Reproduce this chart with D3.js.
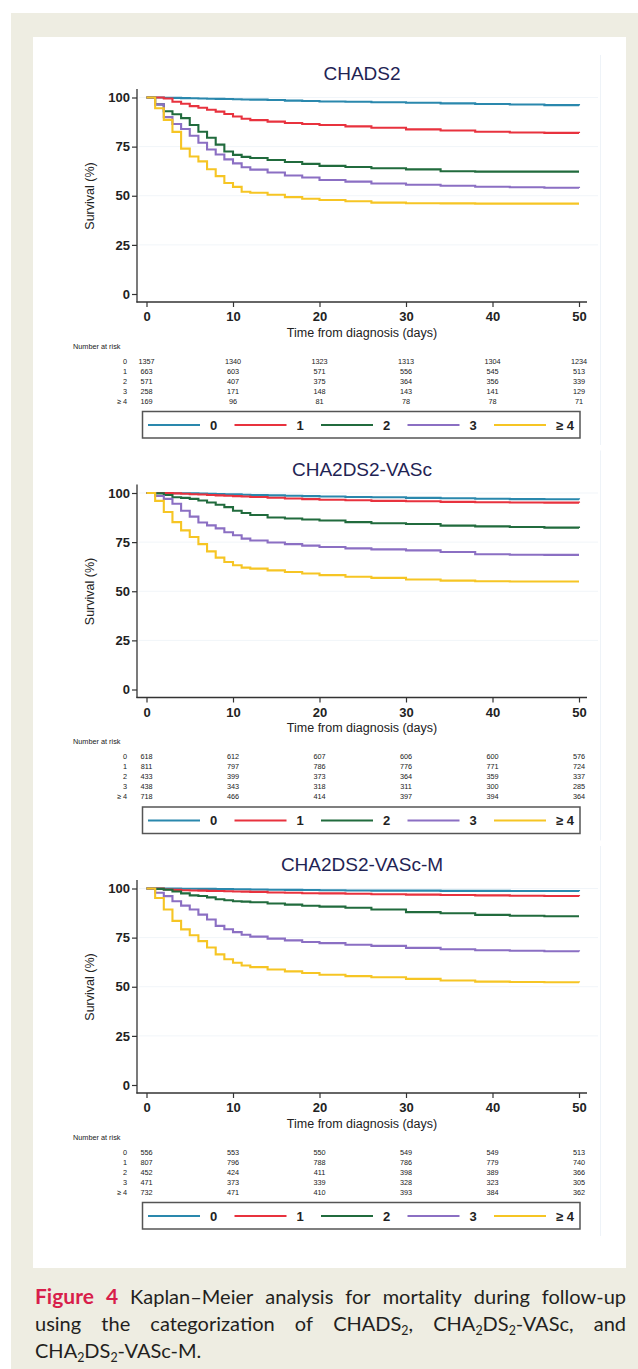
<!DOCTYPE html>
<html><head><meta charset="utf-8">
<script src="https://cdn.jsdelivr.net/npm/d3@7"></script>
<style>html,body{margin:0;padding:0;background:#fff;} svg{display:block}</style>
</head><body>
<script>
// ---------- DATA ----------
const days = [0,1,2,3,4,5,6,7,8,9,10,11,12,14,16,18,20,23,26,30,34,38,42,46,50];
const panelTitles = ["CHADS2", "CHA2DS2-VASc", "CHA2DS2-VASc-M"];
const groupLabels = ["0", "1", "2", "3", "\u2265 4"];
const groupColors = ["#2a88ad", "#e8323e", "#216b3d", "#8b6fc3", "#f6c524"];
const xTickValues = [0, 10, 20, 30, 40, 50];
const yTickValues = [0, 25, 50, 75, 100];
const riskTimes = [0, 10, 20, 30, 40, 50];

// CHADS2 survival (%)
const chads2Surv0 = [100,100,99.9,99.8,99.7,99.6,99.5,99.4,99.3,99.2,99.1,99.0,98.9,98.7,98.4,98.2,98.0,97.8,97.6,97.3,97.0,96.7,96.4,96.1,95.9];
const chads2Surv1 = [100,100,99.5,97.8,96.8,95.6,94.8,93.8,92.8,91.6,90.3,89.2,88.5,87.7,87.0,86.5,86.0,85.3,84.6,83.8,83.2,82.6,82.2,82.0,81.9];
const chads2Surv2 = [100,96.5,93,91.5,89.5,86,82.6,79.5,76,72.5,70.8,69.8,69.2,68.2,67.2,66.2,65.2,64.6,64,63.4,62.5,62.3,62.3,62.3,62.3];
const chads2Surv3 = [100,96.5,90,86.5,84,80.5,77,73.5,71,68.5,66.5,64.5,63.3,61.8,60.3,59.3,58,57.2,56.2,55.6,55.1,54.6,54.3,54.1,54];
const chads2Surv4 = [100,94.5,88.6,82.5,74,70,67.5,63.5,60,56.5,54.5,52,51.5,50.5,49.3,48.5,47.8,47.2,46.5,46.2,46.1,46,46,46,46];

// CHA2DS2-VASc survival (%)
const vascSurv0 = [100,100,100,99.9,99.9,99.8,99.7,99.6,99.5,99.4,99.3,99.1,99,98.8,98.6,98.4,98.2,98,97.8,97.5,97.3,97.1,96.9,96.8,96.7];
const vascSurv1 = [100,100,100,99.8,99.6,99.4,99.2,99,98.8,98.6,98.4,98.2,98,97.6,97.2,96.9,96.6,96.3,96,95.8,95.5,95.3,95.2,95.1,95];
const vascSurv2 = [100,99.8,99,97.8,97.5,97,96.2,95.2,94,92.8,91,89.8,88.8,87.5,87,86.5,86,85.2,84.6,84.2,83.4,83,82.7,82.4,82.2];
const vascSurv3 = [100,98.5,97,94.5,91,88,85,83.5,82,80,78.5,76.8,75.8,74.8,74,73.2,72.5,71.8,71.3,70.8,70,68.8,68.6,68.5,68.5];
const vascSurv4 = [100,96,90.3,85.2,81,77.6,74,70.3,67.1,64.9,63.2,62,61.5,60.6,59.8,59,58.2,57.4,56.8,56,55.4,55.1,55,55,55];

// CHA2DS2-VASc-M survival (%)
const vascMSurv0 = [100,100,100,100,99.9,99.9,99.8,99.8,99.7,99.7,99.6,99.6,99.5,99.4,99.3,99.2,99.1,99,98.9,98.9,98.8,98.8,98.7,98.7,98.6];
const vascMSurv1 = [100,100,99.5,99.3,99.1,99,98.9,98.8,98.7,98.6,98.5,98.4,98.3,98,97.8,97.6,97.5,97.3,97.1,96.9,96.7,96.5,96.3,96.2,96.1];
const vascMSurv2 = [100,99.8,99.4,98.5,97.5,96.5,96.2,95.5,94.5,94,93.5,93.3,93,92.4,91.8,91.2,90.8,90.2,89.3,88,87.4,86.6,86.1,85.9,85.9];
const vascMSurv3 = [100,97.8,96.1,93.5,91.3,89.3,86.7,84.2,81,79.3,77.8,76.5,75.5,74.5,73.6,72.8,72.2,71.4,70.8,69.8,69.1,68.6,68.3,68.1,68];
const vascMSurv4 = [100,95.2,89.3,83.5,79.2,76.2,73.2,70,66.5,64,62.2,60.8,60,58.8,57.8,57,56.1,55.4,54.8,54,53.2,52.6,52.4,52.3,52.2];

// Numbers at risk
const chads2Risk0 = [1357,1340,1323,1313,1304,1234];
const chads2Risk1 = [663,603,571,556,545,513];
const chads2Risk2 = [571,407,375,364,356,339];
const chads2Risk3 = [258,171,148,143,141,129];
const chads2Risk4 = [169,96,81,78,78,71];

const vascRisk0 = [618,612,607,606,600,576];
const vascRisk1 = [811,797,786,776,771,724];
const vascRisk2 = [433,399,373,364,359,337];
const vascRisk3 = [438,343,318,311,300,285];
const vascRisk4 = [718,466,414,397,394,364];

const vascMRisk0 = [556,553,550,549,549,513];
const vascMRisk1 = [807,796,788,786,779,740];
const vascMRisk2 = [452,424,411,398,389,366];
const vascMRisk3 = [471,373,339,328,323,305];
const vascMRisk4 = [732,471,410,393,384,362];

const panels = [
  {title: panelTitles[0], surv: [chads2Surv0,chads2Surv1,chads2Surv2,chads2Surv3,chads2Surv4], risk: [chads2Risk0,chads2Risk1,chads2Risk2,chads2Risk3,chads2Risk4]},
  {title: panelTitles[1], surv: [vascSurv0,vascSurv1,vascSurv2,vascSurv3,vascSurv4], risk: [vascRisk0,vascRisk1,vascRisk2,vascRisk3,vascRisk4]},
  {title: panelTitles[2], surv: [vascMSurv0,vascMSurv1,vascMSurv2,vascMSurv3,vascMSurv4], risk: [vascMRisk0,vascMRisk1,vascMRisk2,vascMRisk3,vascMRisk4]}
];

// ---------- DRAW ----------
const W = 638, H = 1369;
const svg = d3.select("body").append("svg").attr("width", W).attr("height", H);
svg.append("rect").attr("x",0).attr("y",0).attr("width",W).attr("height",H).attr("fill","#ffffff");
svg.append("rect").attr("x",11).attr("y",13).attr("width",W-11).attr("height",H-13).attr("fill","#eeede2");
svg.append("rect").attr("x",33).attr("y",37).attr("width",593).attr("height",1231).attr("fill","#ffffff");

const FONT = "'Liberation Sans', Arial, Helvetica, sans-serif";
const panelStep = 395.5;

panels.forEach((p, k) => {
  const dy = k * panelStep;
  const g = svg.append("g").attr("transform", `translate(0,${dy})`);
  const x = d3.scaleLinear().domain([0, 50]).range([146.5, 579]);
  const y = d3.scaleLinear().domain([0, 100]).range([294, 97.5]);

  // faint plot region border & gridlines
  g.append("line").attr("x1",600.5).attr("x2",600.5).attr("y1",55).attr("y2",445)
    .attr("stroke","#eef3f8").attr("stroke-width",1);
  g.selectAll("line.grid").data(yTickValues.filter(v => v > 0)).enter().append("line")
    .attr("class","grid").attr("x1",139).attr("x2",598)
    .attr("y1", d => y(d)).attr("y2", d => y(d))
    .attr("stroke","#f1f5f9").attr("stroke-width",1);

  // title
  g.append("text").attr("x", 362).attr("y", 80).attr("text-anchor","middle")
    .attr("font-family", FONT).attr("font-size", 19).attr("fill", "#1f2454").text(p.title);

  // curves
  const line = d3.line().x(d => x(d[0])).y(d => y(d[1])).curve(d3.curveStepAfter);
  p.surv.forEach((s, i) => {
    g.append("path").datum(days.map((d, j) => [d, s[j]]))
      .attr("d", line).attr("fill","none").attr("stroke", groupColors[i]).attr("stroke-width", 2.1);
  });

  // axes
  const yAxis = d3.axisLeft(y).tickValues(yTickValues).tickSize(5).tickPadding(2);
  const ya = g.append("g").attr("transform","translate(137,0)").call(yAxis);
  const xAxis = d3.axisBottom(x).tickValues(xTickValues).tickSize(5).tickPadding(5);
  const xa = g.append("g").attr("transform","translate(0,302)").call(xAxis);
  [ya, xa].forEach(a => {
    a.select(".domain").remove();
    a.selectAll(".tick line").attr("stroke","#333").attr("stroke-width",1.2);
    a.selectAll(".tick text").attr("font-family", FONT).attr("font-size", 13)
      .attr("fill","#222").attr("font-weight","bold");
  });
  g.append("line").attr("x1",137).attr("x2",137).attr("y1",89).attr("y2",302.6)
    .attr("stroke","#333").attr("stroke-width",1.3);
  g.append("line").attr("x1",136.4).attr("x2",587).attr("y1",302).attr("y2",302)
    .attr("stroke","#333").attr("stroke-width",1.3);

  // axis titles
  g.append("text").attr("x", 362).attr("y", 336.5).attr("text-anchor","middle")
    .attr("font-family", FONT).attr("font-size", 12.5).attr("fill","#222")
    .text("Time from diagnosis (days)");
  g.append("text").attr("transform","translate(93.5,196) rotate(-90)").attr("text-anchor","middle")
    .attr("font-family", FONT).attr("font-size", 12.5).attr("fill","#222")
    .text("Survival (%)");

  // number at risk table
  g.append("text").attr("x", 73).attr("y", 348.5).attr("font-family", FONT)
    .attr("font-size", 7.3).attr("fill","#222").text("Number at risk");
  p.risk.forEach((row, i) => {
    const yy = 363.5 + i * 10.1;
    g.append("text").attr("x", 127).attr("y", yy).attr("text-anchor","end")
      .attr("font-family", FONT).attr("font-size", 7.3).attr("fill","#222").text(groupLabels[i]);
    g.selectAll(null).data(row).enter().append("text")
      .attr("x", (d, j) => x(riskTimes[j])).attr("y", yy).attr("text-anchor","middle")
      .attr("font-family", FONT).attr("font-size", 7.3).attr("fill","#222").text(d => d);
  });

  // legend
  g.append("rect").attr("x",142.5).attr("y",411.5).attr("width",437.5).attr("height",26.5)
    .attr("fill","#fff").attr("stroke","#555").attr("stroke-width",1.5);
  groupLabels.forEach((lab, i) => {
    const lx = 148 + i * 86.5;
    g.append("line").attr("x1", lx).attr("x2", lx + 52).attr("y1", 425).attr("y2", 425)
      .attr("stroke", groupColors[i]).attr("stroke-width", 2);
    g.append("text").attr("x", lx + 62).attr("y", 429.5).attr("font-family", FONT)
      .attr("font-size", 13).attr("font-weight","bold").attr("fill","#222").text(lab);
  });
});

// ---------- CAPTION ----------
const capFont = "Lato, 'Open Sans', sans-serif";
const capSize = 20;
const capColor = "#231f20";
const red = "#d81e4b";
const captionLines = [
  {y: 1304, justify: true, words: [
    [{t:"Figure", bold:true, color:red}], [{t:"4", bold:true, color:red}],
    [{t:"Kaplan\u2013Meier"}], [{t:"analysis"}], [{t:"for"}], [{t:"mortality"}],
    [{t:"during"}], [{t:"follow-up"}]]},
  {y: 1331, justify: true, words: [
    [{t:"using"}], [{t:"the"}], [{t:"categorization"}], [{t:"of"}],
    [{t:"CHADS"}, {t:"2", sub:true}, {t:","}],
    [{t:"CHA"}, {t:"2", sub:true}, {t:"DS"}, {t:"2", sub:true}, {t:"-VASc,"}],
    [{t:"and"}]]},
  {y: 1358, justify: false, words: [
    [{t:"CHA"}, {t:"2", sub:true}, {t:"DS"}, {t:"2", sub:true}, {t:"-VASc-M."}]]}
];
const capX0 = 35, capX1 = 626;
const cap = svg.append("g");
captionLines.forEach(L => {
  const nodes = L.words.map(w => {
    const t = cap.append("text").attr("y", L.y).attr("font-family", capFont)
      .attr("font-size", capSize).attr("fill", capColor);
    let shifted = false;
    w.forEach(s => {
      const ts = t.append("tspan").text(s.t);
      if (s.bold) ts.attr("font-weight", "bold").attr("font-size", capSize + 1);
      if (s.color) ts.attr("fill", s.color);
      if (s.sub) { ts.attr("font-size", capSize * 0.62).attr("dy", 4); shifted = true; }
      else if (shifted) { ts.attr("dy", -4); shifted = false; }
    });
    return t;
  });
  const widths = nodes.map(n => n.node().getComputedTextLength());
  const total = d3.sum(widths);
  const gap = L.justify ? (capX1 - capX0 - total) / (nodes.length - 1) : capSize * 0.26;
  let cx = capX0;
  nodes.forEach((n, i) => { n.attr("x", cx); cx += widths[i] + gap; });
});
</script>
</body></html>
